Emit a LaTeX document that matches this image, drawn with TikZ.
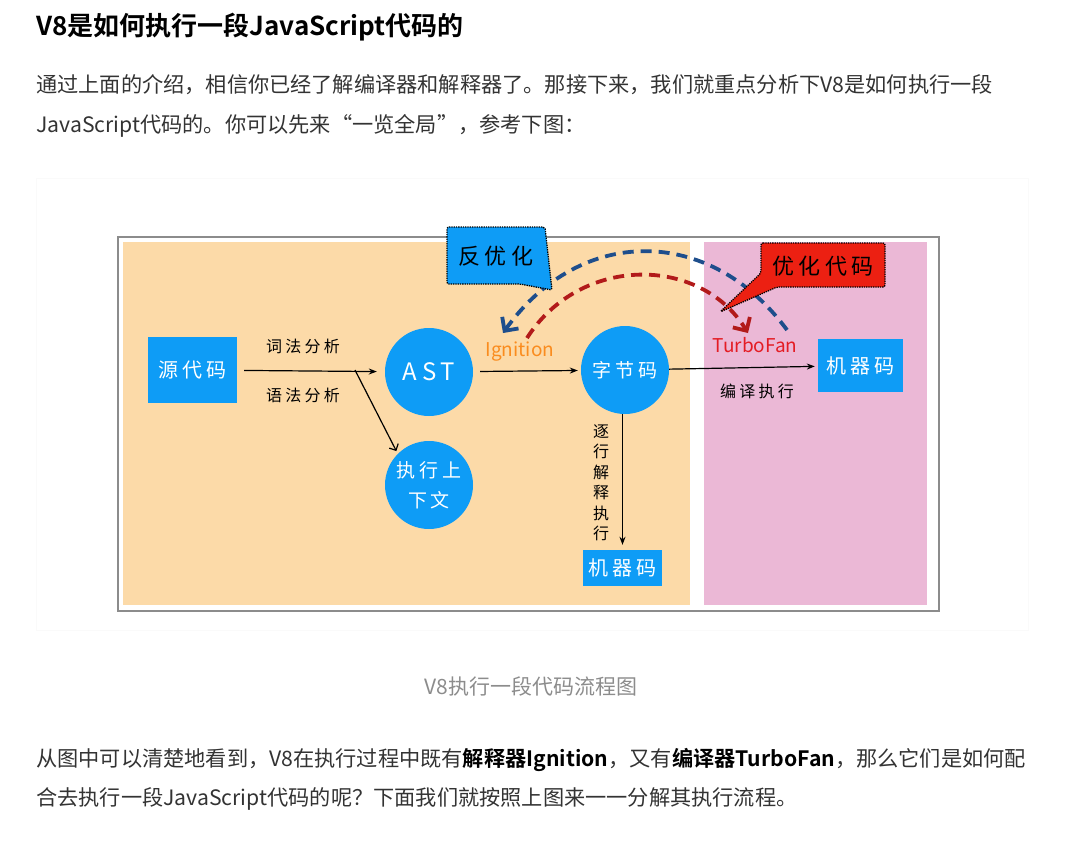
\documentclass[tikz,border=0pt]{standalone}
\usepackage{fontspec}
\setmainfont{Noto Sans CJK SC}[BoldFont={Noto Sans CJK SC Bold}]
\newfontfamily\handfont[LetterSpace=20]{Noto Sans CJK SC}
\usetikzlibrary{arrows.meta,positioning}
\definecolor{pText}{RGB}{51,51,51}
\definecolor{pCap}{RGB}{140,140,140}
\definecolor{pFrame}{gray}{0.55}
\definecolor{pOrange}{RGB}{252,218,168}
\definecolor{pPink}{RGB}{235,184,214}
\definecolor{pBlue}{RGB}{14,156,246}
\definecolor{pRed}{RGB}{236,32,18}
\definecolor{pDkBlue}{RGB}{30,78,140}
\definecolor{pDkRed}{RGB}{178,26,26}
\definecolor{pIgn}{RGB}{250,140,30}
\definecolor{pTurbo}{RGB}{228,28,36}
\tikzset{
    para/.style={anchor=west, inner sep=0pt, text=pText, font=\fontsize{21.2}{26}\selectfont},
    box/.style={rectangle, fill=pBlue, text=white, inner sep=0pt, font=\handfont\fontsize{20}{24}\selectfont},
    circ/.style={circle, fill=pBlue, text=white, inner sep=0pt, minimum size=88pt, align=center, font=\handfont\fontsize{19}{30}\selectfont},
    lbl/.style={inner sep=0pt, font=\handfont\fontsize{16}{20}\selectfont},
    latn/.style={inner sep=0pt, font=\fontsize{19}{22}\selectfont},
    callout/.style={draw=black, densely dotted, line width=1.3pt, rounded corners=2pt},
    arr/.style={-{Stealth[length=8pt,width=6pt]}, line width=1.2pt},
    barb/.style={-{Straight Barb[length=5pt,width=10pt]}, line width=1.2pt},
    curv/.style={line width=3.8pt, dash pattern=on 11pt off 7pt, -{Straight Barb[length=10pt,width=20pt,line width=3.8pt]}}
}

\begin{document}
\begin{tikzpicture}[x=1pt,y=-1pt]
\useasboundingbox (0,0) rectangle (1087,846);
% page text above
\node[para, text=black, font=\bfseries\fontsize{26}{30}\selectfont] (title) at (36,27) {V8是如何执行一段JavaScript代码的};
\node[para] (p1) at (36,85) {通过上面的介绍，相信你已经了解编译器和解释器了。那接下来，我们就重点分析下V8是如何执行一段};
\node[para] (p2) at (36,126) {JavaScript代码的。你可以先来“一览全局”，参考下图：};
% figure frame
\draw[black!2] (36,178) rectangle (1028,630);
\draw[pFrame, line width=2pt] (118,237) rectangle (939,611);
\fill[pOrange] (123,242) rectangle (690,605);
\fill[pPink] (704,242) rectangle (927,605);
% nodes
\node[box, minimum width=89pt, minimum height=66pt] (src) at (192.5,370) {源代码};
\node[circ, font=\handfont\fontsize{24}{28}\selectfont] (ast) at (429,372) {AST};
\node[circ] (ctx) at (429,485) {执行上\\下文};
\node[circ] (bc) at (625,370) {字节码};
\node[box, minimum width=85pt, minimum height=53pt] (mc1) at (860.5,365.5) {机器码};
\node[box, minimum width=79pt, minimum height=36pt] (mc2) at (622.5,568) {机器码};
% labels
\node[lbl] (lex) at (303,346) {词法分析};
\node[lbl] (syn) at (303,395) {语法分析};
\node[latn, text=pIgn] (ign) at (520,352) {Ignition};
\node[latn, text=pTurbo] (tf) at (755,345) {TurboFan};
\node[lbl] (comp) at (757,391) {编译执行};
\node[lbl, align=center, font=\handfont\fontsize{16}{20.5}\selectfont] (interp) at (601,483) {逐\\行\\解\\释\\执\\行};
% connectors
\coordinate (br) at (355,370);
\draw[arr, shorten <=7pt, shorten >=8pt] (src) -- (ast);
\draw[barb, shorten >=3pt] (br) -- (ctx.135);
\draw[arr, shorten <=7pt, shorten >=3pt] (ast) -- (bc);
\draw[arr, shorten >=3pt] (bc) -- (mc1);
\draw[arr, shorten >=5pt] (bc.south -| mc2.north) -- (mc2.north);
% deopt / opt curves
\coordinate (deoptS) at (787,330);
\coordinate (deoptE) at (503,333);
\coordinate (optS) at (527,338);
\coordinate (optE) at (748,333);
\draw[curv, pDkBlue] (deoptS) .. controls (710,225) and (580,225) .. (deoptE);
\draw[curv, pDkRed] (optS) .. controls (580,255) and (700,255) .. (optE);
% callouts
\filldraw[callout, fill=pBlue] (447,227) -- (545,227) -- (552,290) -- (520,284) -- (447,284) -- cycle;
\node[font=\handfont\fontsize{22}{26}\selectfont] (deopt) at (496,256) {反优化};
\filldraw[callout, fill=pRed] (761,243) -- (885,243) -- (885,287) -- (777,287) -- (720,312) -- (761,273) -- cycle;
\node[font=\handfont\fontsize{22}{26}\selectfont] (opt) at (823,266) {优化代码};
% caption and text below
\node[text=pCap, font=\fontsize{21}{24}\selectfont] (cap) at (531,686) {V8执行一段代码流程图};
\node[para] (p3) at (36,760) {从图中可以清楚地看到，V8在执行过程中既有{\color{black}\bfseries 解释器Ignition}，又有{\color{black}\bfseries 编译器TurboFan}，那么它们是如何配};
\node[para] (p4) at (36,799) {合去执行一段JavaScript代码的呢？下面我们就按照上图来一一分解其执行流程。};
\end{tikzpicture}
\end{document}
